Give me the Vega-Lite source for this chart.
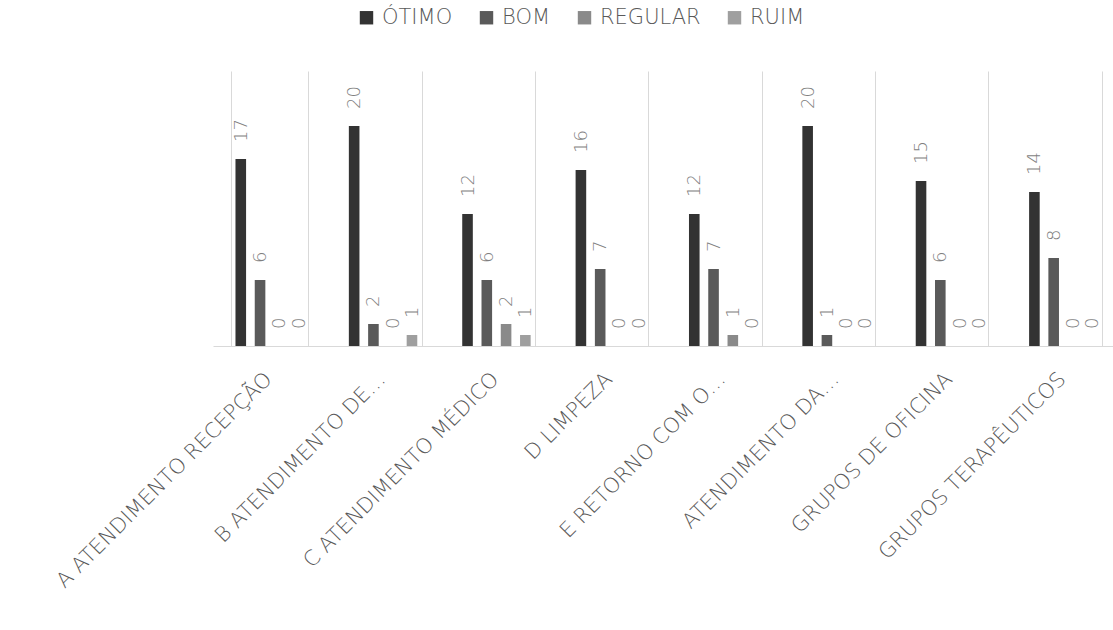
{
  "$schema": "https://vega.github.io/schema/vega-lite/v6.json",
  "width": 900,
  "height": 275,
  "autosize": {"type": "none"},
  "padding": {"left": 213, "top": 71, "right": 0, "bottom": 284},
  "background": "white",
  "config": {"view": {"stroke": null}, "font": "DejaVu Sans"},
  "data": {
    "values": [
      {"cat": "A ATENDIMENTO RECEPÇÃO", "serie": "ÓTIMO", "valor": 17},
      {"cat": "A ATENDIMENTO RECEPÇÃO", "serie": "BOM", "valor": 6},
      {"cat": "A ATENDIMENTO RECEPÇÃO", "serie": "REGULAR", "valor": 0},
      {"cat": "A ATENDIMENTO RECEPÇÃO", "serie": "RUIM", "valor": 0},
      {"cat": "B ATENDIMENTO DE…", "serie": "ÓTIMO", "valor": 20},
      {"cat": "B ATENDIMENTO DE…", "serie": "BOM", "valor": 2},
      {"cat": "B ATENDIMENTO DE…", "serie": "REGULAR", "valor": 0},
      {"cat": "B ATENDIMENTO DE…", "serie": "RUIM", "valor": 1},
      {"cat": "C ATENDIMENTO MÉDICO", "serie": "ÓTIMO", "valor": 12},
      {"cat": "C ATENDIMENTO MÉDICO", "serie": "BOM", "valor": 6},
      {"cat": "C ATENDIMENTO MÉDICO", "serie": "REGULAR", "valor": 2},
      {"cat": "C ATENDIMENTO MÉDICO", "serie": "RUIM", "valor": 1},
      {"cat": "D LIMPEZA", "serie": "ÓTIMO", "valor": 16},
      {"cat": "D LIMPEZA", "serie": "BOM", "valor": 7},
      {"cat": "D LIMPEZA", "serie": "REGULAR", "valor": 0},
      {"cat": "D LIMPEZA", "serie": "RUIM", "valor": 0},
      {"cat": "E RETORNO COM O…", "serie": "ÓTIMO", "valor": 12},
      {"cat": "E RETORNO COM O…", "serie": "BOM", "valor": 7},
      {"cat": "E RETORNO COM O…", "serie": "REGULAR", "valor": 1},
      {"cat": "E RETORNO COM O…", "serie": "RUIM", "valor": 0},
      {"cat": "ATENDIMENTO DA…", "serie": "ÓTIMO", "valor": 20},
      {"cat": "ATENDIMENTO DA…", "serie": "BOM", "valor": 1},
      {"cat": "ATENDIMENTO DA…", "serie": "REGULAR", "valor": 0},
      {"cat": "ATENDIMENTO DA…", "serie": "RUIM", "valor": 0},
      {"cat": "GRUPOS DE OFICINA", "serie": "ÓTIMO", "valor": 15},
      {"cat": "GRUPOS DE OFICINA", "serie": "BOM", "valor": 6},
      {"cat": "GRUPOS DE OFICINA", "serie": "REGULAR", "valor": 0},
      {"cat": "GRUPOS DE OFICINA", "serie": "RUIM", "valor": 0},
      {"cat": "GRUPOS TERAPÊUTICOS", "serie": "ÓTIMO", "valor": 14},
      {"cat": "GRUPOS TERAPÊUTICOS", "serie": "BOM", "valor": 8},
      {"cat": "GRUPOS TERAPÊUTICOS", "serie": "REGULAR", "valor": 0},
      {"cat": "GRUPOS TERAPÊUTICOS", "serie": "RUIM", "valor": 0}
    ]
  },
  "encoding": {
    "x": {
      "field": "cat",
      "type": "nominal",
      "sort": null,
      "scale": {"range": [0, 907], "paddingInner": 0.32, "paddingOuter": 0.16},
      "axis": {
        "title": null,
        "grid": true,
        "gridColor": "#d9d9d9",
        "gridWidth": 1,
        "tickBand": "extent",
        "ticks": false,
        "domainColor": "#d9d9d9",
        "domainWidth": 1,
        "labelAngle": -45,
        "labelFont": "DejaVu Sans",
        "labelFontWeight": 200,
        "labelFontSize": 21,
        "labelColor": "#595959",
        "labelPadding": 22,
        "labelOffset": -9,
        "labelLimit": 500
      }
    },
    "xOffset": {
      "field": "serie",
      "type": "nominal",
      "sort": ["ÓTIMO", "BOM", "REGULAR", "RUIM"],
      "scale": {"paddingInner": 0.45, "paddingOuter": 0.225}
    },
    "y": {
      "field": "valor",
      "type": "quantitative",
      "scale": {"domain": [0, 25]},
      "axis": null
    }
  },
  "layer": [
    {
      "mark": {"type": "bar"},
      "encoding": {
        "color": {
          "field": "serie",
          "type": "nominal",
          "scale": {
            "domain": ["ÓTIMO", "BOM", "REGULAR", "RUIM"],
            "range": ["#333333", "#5a5a5a", "#8a8a8a", "#9f9f9f"]
          },
          "legend": {
            "orient": "none",
            "legendX": 143,
            "legendY": -64,
            "direction": "horizontal",
            "title": null,
            "symbolType": "square",
            "symbolSize": 180,
            "symbolStrokeWidth": 0,
            "labelFont": "DejaVu Sans",
            "labelFontWeight": 200,
            "labelFontSize": 21,
            "labelColor": "#595959",
            "labelOffset": 5,
            "columnPadding": 23
          }
        }
      }
    },
    {
      "mark": {
        "type": "text",
        "angle": 270,
        "align": "left",
        "baseline": "middle",
        "dx": 17,
        "dy": 1,
        "font": "DejaVu Sans",
        "fontWeight": 200,
        "fontSize": 18,
        "color": "#7f7f7f"
      },
      "encoding": {"text": {"field": "valor", "type": "quantitative"}}
    }
  ]
}
